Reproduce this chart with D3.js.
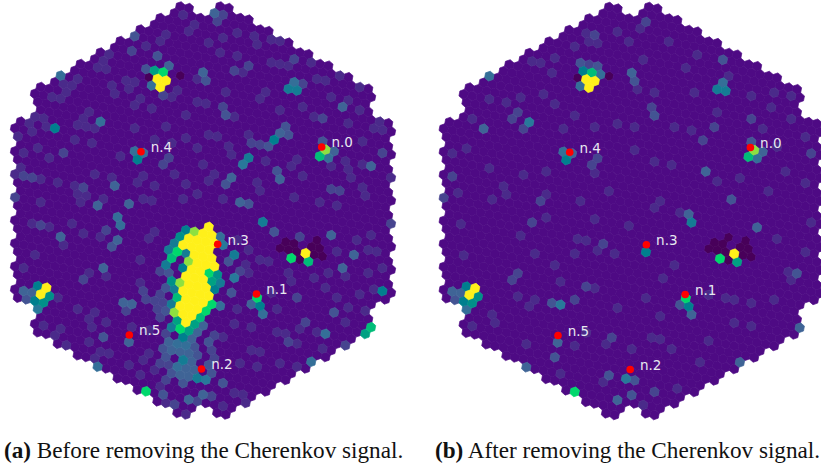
<!DOCTYPE html>
<html><head><meta charset="utf-8">
<script src="https://cdn.jsdelivr.net/npm/d3@7"></script>
<style>html,body{margin:0;padding:0;background:#fff;overflow:hidden}svg{display:block}</style></head>
<body><svg id="c" width="821" height="471"></svg>
<script>
// Level colour stops
const levelStops=[-1,0,1,2,3,4,5,6,7,8,9];
const levelColors=["#48005a","#4e0a84","#4a2a8a","#46448f","#3f6496","#28799a","#007f8e","#00a183","#00d86c","#8ee040","#fff01a"];
// Telescope labels and hit positions (camera coordinates)
const telNames=["n.0","n.1","n.2","n.3","n.4","n.5"];
const telX=[321.7,256.5,201.5,217.7,141,129.3];
const telY=[147,294,369,244.3,151.7,335];
const blobR=[2,3,4,5,6,7,8,9,10,11,12,13,14,15];
const blobQ0=[0,-1,-3,-4,-3,-3,-4,-5,-5,-6,-6,-7,-7,-7];
const blobQ1=[0,0,0,-1,-1,-1,-3,-3,-3,-3,-4,-5,-6,-7];
const darkPatch=[[285,242],[293,242],[303,240],[315,240],[280,247],[289,248],[298,248],[307,247],[317,248],[323,252],[300,260],[315,252],[324,257]];
const hotA=[[157,76,9],[163,80,9],[167,78,9],[160,85,9],[162,70,7],[153,68,6],[151,83,3.5],[148,75,-1],[180,73,-1],[170,70,3],[170,63,3],[158,60,2.5],[147,65,2.5],[163,92,2],
[137,158,5],[133,149,3.5],[143,150,3.5],[53,126,5],[99,120,3.5],[59,73,3.5],[133,33,2.5],[131,48,2],[114,184,3],[97,204,3],[128,202,3],[62,152,2],
[215,10,3],[223,13,2],[289,87,4.5],[298,88,4.5],[296,80,3.5],[305,82,2],[275,138,5],[249,156,4.5],[243,163,4],[231,176,3],[225,183,2.5],[343,105,3],[372,164,3],[287,128,2.5],[282,132,3],[290,133,2.5],[268,145,2.5],
[327,148,8],[321,155,6.5],[329,157,3.5],[336,150,3],[323,140,2.5],[203,70,3],[205,78,2.5],[277,170,2.5],[281,178,3],[240,202,3],[248,203,2.5],[332,188,2],[340,190,2],[223,107,2],[225,113,2.5],[295,57,2],[250,63,2],
[208.7,273,7],[217,274.7,5.5],[211.6,281.2,6],[220,282,4.5],[214.4,289.4,5],[211.6,304.2,7],[205.9,310.8,7],[200.2,317.4,6.5],[220,305,3.5],[234,254,4.5],[234,278,4],[220,235,3.5],[223,243,4],
[263,222,4.5],[292,258,7],[309,261,6.5],[306,253,9],[257,298,7],[260,307,5],[263,314,3.5],[252,303,3],[384,291,5],[372,328,6.5],[367,334,6],[327,334,3.5],[355,254,3],[343,267,3],[312,362,3.5],[335,313,2.5],[332,233,3],[300,235,2],[273,230,2.5],
[203,378,3.5],[205,383,4],[223,383,2.5],[197,378,4.5],[180,360,4.5],[175,367,3.5],[183,352,3.5],[180,375,3],[188,400,3],[162,395,2.5],[203,395,3],[145,392,7],[97,367,3.5],[128,343,3],[100,337,2.5],
[45,288,9],[39,294,9],[36,285,5],[48,296,5.5],[33,301,5],[42,303,5.5],[36,309,4],[28,292,3],[20,290,3],[25,298,2.5],[118,217,3.5],[120,225,3.5],[117,238,3],[59,236,3],[103,267,3],[122,303,3],[130,304,3],[115,247,2.5],
[180,237,5.5],[187,232,5],[194.5,232,8],[175,252,7],[171,257,6.5],[173,243,4.5],[165,263,4.5],[167,253,4.5],[185.9,253.2,4.5],[188.8,261.4,8],[183,268,5],[172,281,5.5],[180.3,282.9,8],[177.4,297.6,6.5],[174.6,289.4,4.5],[174.6,312.4,8],[180.3,328.9,7],[171,327,4.5],[188.8,330.5,6],[182,337,5],[177.4,320.7,6],[194.5,324,6],[171.7,304.2,4.5],
[175,345,3.5],[185,345,3.5],[190,340,3],[197,333,3],[168,272,2.5],[166,290,2.5],[165,312,2.5],[170,338,3],[206,325,3],[226,262,2.5],[228,292,2.5],[177,353,3],[190,360,3],[195,368,3],
[165,345,2.5],[170,352,3],[160,360,2],[165,358,2.5],[190,350,3],[198,345,2.5],[205,340,2.5],[212,335,2],[200,355,2.5],[208,350,2],[192,375,3],[185,385,2.5],[172,375,2.5],[188,368,3],[205,362,2.5],[215,355,2],[212,370,2.5],[160,275,2],[158,300,2],[158,320,2],[162,335,2]];
const faintA1=[[103,60],[110,58],[105,67],[115,92],[127,90],[135,103],[88,110],[80,117],[87,118],[77,123],[83,125],[93,128],[62,87],[70,90],[53,95],[65,98],[43,115],[37,120],[47,123],[30,123],[32,132],[22,152],[23,170],[77,185],[85,195],[75,197],[93,172],[112,173],[175,173],[143,175],[163,125],[133,127],[167,33],[160,43],[147,45],[192,33],[197,23],[182,12],[77,80],[100,70],[153,200],[187,197],[197,190],
[233,32],[250,37],[270,37],[277,43],[258,47],[243,73],[225,90],[288,63],[310,63],[317,75],[330,80],[350,97],[333,93],[373,127],[350,170],[360,167],[348,180],[313,115],[267,90],[232,155],[203,163],[303,177],[220,197],[297,198],[367,193],[390,177],[215,173],[210,180],[380,120],
[30,223],[47,227],[15,255],[33,253],[87,272],[147,237],[157,235],[140,287],[97,310],[87,317],[42,325],[52,333],[92,343],[102,353],[97,357],[133,323],[113,353],[128,363],[142,357],[160,383],[187,413],
[237,392],[243,390],[250,350],[263,353],[288,337],[297,300],[327,288],[337,293],[347,280],[360,290],[370,290],[390,275],[380,270],[323,353],[245,263],[248,277],[367,253],[317,333],[280,333],[250,330],[273,293],[225,403],[243,400],
[75,83],[113,83],[122,80],[138,83],[140,97],[155,107],[170,100],[180,93],[197,80],[200,100],[187,113],[157,137],[170,143],[182,137],[197,147],[200,167],[185,180],[153,190],[137,183],[117,157],[90,147],[73,143],[40,147],[20,140],[50,160],[13,173],[43,177],[57,187],[43,200],[107,200],[83,203],[140,200],[147,153],
[207,43],[220,53],[237,57],[220,37],[267,63],[280,60],[300,43],[317,57],[343,77],[357,87],[363,110],[347,123],[360,143],[380,133],[343,163],[367,187],[333,167],[300,157],[287,167],[267,163],[257,180],[257,193],[320,203],[340,203],[207,133],[217,140],[230,143],[247,133],[233,120],[257,100],[300,110],[280,107],[207,100],
[70,225],[60,245],[100,240],[140,262],[110,275],[80,235],[20,270],[60,300],[75,310],[110,320],[130,340],[70,345],[95,330],[60,325],[150,330],[150,350],[140,375],[120,390],[110,375],[130,385],[155,370],[165,403],[240,240],[250,250],[258,260],[270,260],[285,270],[290,285],[315,280],[325,270],[340,250],[360,240],[375,235],[380,255],[365,270],[350,310],[365,310],[345,325],[300,325],[280,310],[240,310],[235,325],[225,340],[240,360],[260,370],[280,365],[295,345],[300,370]];
const faintA2=[[30,177],[20,175],[13,197],[85,187],[168,157],[163,163],[215,20],[250,63],[233,70],[383,152],[323,117],[253,142],[260,143],[38,223],[82,280],[110,233],[145,290],[150,297],[160,297],[157,310],[167,305],[163,320],[127,310],[167,367],[167,380],[180,383],[197,397],[177,407],[210,393],[287,343],[307,320],[300,297],[343,345],[240,270],[392,223]];
const hotB=[[158,78,9],[165,80,9],[168,78,9],[161,86,9],[164,71,6.5],[155,69,5],[171,72,3.5],[151,85,3.5],[149,76,-1],[181,75,-1],[151,61,2.5],[168,65,2.5],[160,62,2],
[137,159,5],[135,150,3.5],[145,151,3],[101,121,4],[55,127,3],[60,74,3.5],[165,164,2],[170,156,2],
[289,88,4.5],[297,89.5,4.5],[295,81,3.5],[295,59,2.5],[203,71,3],[206,80,2.5],[226,115,2.5],[286,126,2],[278,171,3],[303,199,2.5],
[327,150,8],[320,156,6.5],[330,158,3.5],[335,150,3],[325,141,2.5],
[46,287,9],[41,294,9],[37,284.5,5],[50,295,5.5],[34,300,5],[43,303,5.5],[37,308,3.5],[30,292,3],[23,290,3],[26,299,2.5],
[131,304,4],[123,303,2.5],[129,342,3],[126,356,2.5],[98,367,3],[146,391,7],[181,375,2.5],[196,378,4.5],[190,400,3],[175,243,2],[101,221,2],[83,279,2],[88,271,2],[158,286,2],[146,298,2],
[218,251,5],[263,222,4.5],[260,214,3],[329,226,3],[291,258,7],[309,261,6],[306,253,9],[257,298,7],[260,306,5],[263,314,3],[253,303,2.5],[372,327,3],[311,362,3],[200,378,4],[203,394,2.5],[208,380,2.5],[226,391,2],[369,273,2.5]];
const faintB1=[[108,63],[101,60],[63,98],[80,121],[45,116],[136,126],[145,114],[126,103],[116,93],[165,125],[23,153],[95,173],[76,184],[81,194],[65,203],[116,173],[161,33],[161,43],[171,43],[145,43],[165,173],
[211,25],[253,66],[226,91],[268,90],[323,95],[333,128],[343,90],[365,93],[356,170],[241,163],[246,126],[206,126],[231,200],[310,178],[205,86],[256,66],
[168,288],[98,306],[105,303],[93,233],[175,343],[148,240],[156,240],[116,216],[63,313],[43,325],[145,345],[31,223],[35,253],[126,265],[171,253],[185,253],
[246,264],[235,276],[296,296],[306,299],[306,323],[323,324],[283,343],[230,343],[224,336],[240,346],[248,388],[363,271],[366,279],[326,303],
[75,100],[88,95],[120,70],[130,60],[190,30],[200,45],[215,60],[240,40],[270,55],[300,75],[345,105],[360,120],[375,140],[350,150],[290,110],[260,130],[210,150],[190,120],[225,165],[180,190],[150,200],[120,195],[40,150],[30,190],[60,165],[290,180],[340,190],[380,180],[200,225],[170,220],[150,255],[130,280],[110,255],[90,300],[70,325],[100,345],[130,375],[160,330],[190,310],[215,295],[230,320],[205,345],[175,385],[215,400],[270,360],[280,290],[345,300],[375,250],[385,225],[350,235],[250,215],[225,205]];
const faintB2=[[85,116],[90,111],[95,125],[25,174],[15,196],[111,200],[166,33],[216,20],[276,140],[320,116],[383,151],[223,106],[181,338],[186,401]];

const centerX=203,centerY=210.5,pitch=8.7,tilt=10.9*Math.PI/180,hexFrac=1/Math.sqrt(3);
const a1=[pitch*Math.cos(tilt),pitch*Math.sin(tilt)];
const a2=[pitch*Math.cos(tilt+Math.PI/3),pitch*Math.sin(tilt+Math.PI/3)];
const det=a1[0]*a2[1]-a1[1]*a2[0];
const key=(q,r)=>q+","+r;
function snap(x,y){
  const dx=x-centerX,dy=y-centerY;
  const fq=(dx*a2[1]-dy*a2[0])/det,fr=(a1[0]*dy-a1[1]*dx)/det;
  let q=Math.round(fq),r=Math.round(fr);const s=Math.round(-fq-fr);
  const dq=Math.abs(q-fq),dr=Math.abs(r-fr),ds=Math.abs(s+fq+fr);
  if(dq>dr&&dq>ds)q=-r-s;else if(dr>ds)r=-q-s;
  return key(q,r);
}
// Camera layout: 7-pixel modules on a 9-shell hexagon without its six corners
const cells=[];
const flower=[[0,0],[1,0],[-1,0],[0,1],[0,-1],[1,-1],[-1,1]];
for(let i=-9;i<=9;i++)for(let j=-9;j<=9;j++){
  const m=Math.max(Math.abs(i),Math.abs(j),Math.abs(i+j));
  if(m>9)continue;
  if((Math.abs(i)==9&&(j==0||i+j==0))||(i==0&&Math.abs(j)==9))continue;
  const mq=2*i-j,mr=i+3*j;
  flower.forEach(f=>cells.push([mq+f[0],mr+f[1]]));
}
const color=d3.scaleLinear().domain(levelStops).range(levelColors).clamp(true);
const svg=d3.select("#c");
const defs=svg.append("defs");
defs.append("filter").attr("id","soft").attr("x","-5%").attr("y","-5%").attr("width","110%").attr("height","110%")
  .attr("color-interpolation-filters","sRGB")
  .append("feGaussianBlur").attr("stdDeviation",0.55);

function panel(ox,oy,f1,f2,hot,withBlob,names,tx,ty){
  const sx=d3.scaleLinear().domain([0,410]).range([ox,ox+410]);
  const sy=d3.scaleLinear().domain([0,471]).range([oy,oy+471]);
  const vals=new Map();
  f1.forEach(d=>vals.set(snap(d[0],d[1]),1));
  f2.forEach(d=>vals.set(snap(d[0],d[1]),2));
  darkPatch.forEach(d=>vals.set(snap(d[0],d[1]),-1));
  hot.forEach(d=>vals.set(snap(d[0],d[1]),d[2]));
  if(withBlob)blobR.forEach((r,i)=>{for(let q=blobQ0[i];q<=blobQ1[i];q++)vals.set(key(q,r),9);});
  const R=pitch*hexFrac;
  const g=svg.append("g").attr("filter","url(#soft)");
  const order=cells.slice().sort((a,b)=>(vals.get(key(a[0],a[1]))||0)-(vals.get(key(b[0],b[1]))||0));
  g.selectAll("path").data(order).join("path")
    .attr("d",d=>{
      const x=centerX+d[0]*a1[0]+d[1]*a2[0],y=centerY+d[0]*a1[1]+d[1]*a2[1];
      const p=d3.range(6).map(k=>{const t=tilt+Math.PI/6+k*Math.PI/3;return [sx(x+R*Math.cos(t)),sy(y+R*Math.sin(t))];});
      return "M"+p.join("L")+"Z";
    })
    .attr("fill",d=>color(vals.get(key(d[0],d[1]))||0))
    .attr("stroke",d=>color(vals.get(key(d[0],d[1]))||0)).attr("stroke-width",0.7);
  svg.append("g").selectAll("circle").data(names).join("circle")
    .attr("cx",(d,i)=>sx(tx[i])).attr("cy",(d,i)=>sy(ty[i])).attr("r",3.8).attr("fill","#ff0000");
  svg.append("g").selectAll("text").data(names).join("text")
    .attr("x",(d,i)=>sx(tx[i])+9.7).attr("y",(d,i)=>sy(ty[i])+0.3)
    .attr("font-family","DejaVu Sans").attr("font-size",13.5).attr("fill","#e8e8f0").text(d=>d);
}
panel(0,0,faintA1,faintA2,hotA,true,telNames,telX,telY);
panel(428.7,0.5,faintB1,faintB2,hotB,false,telNames,telX,telY);

const capLetter=["(a)","(b)"];
const capText=[" Before removing the Cherenkov signal."," After removing the Cherenkov signal."];
const capX=[4,435];
const cap=svg.append("g").attr("font-family","Liberation Serif").attr("font-size",23.2).attr("fill","#111");
capLetter.forEach((l,i)=>{
  const t=cap.append("text").attr("x",capX[i]).attr("y",458).attr("xml:space","preserve");
  t.append("tspan").attr("font-weight","bold").text(l);
  t.append("tspan").text(capText[i]);
});
</script></body></html>
